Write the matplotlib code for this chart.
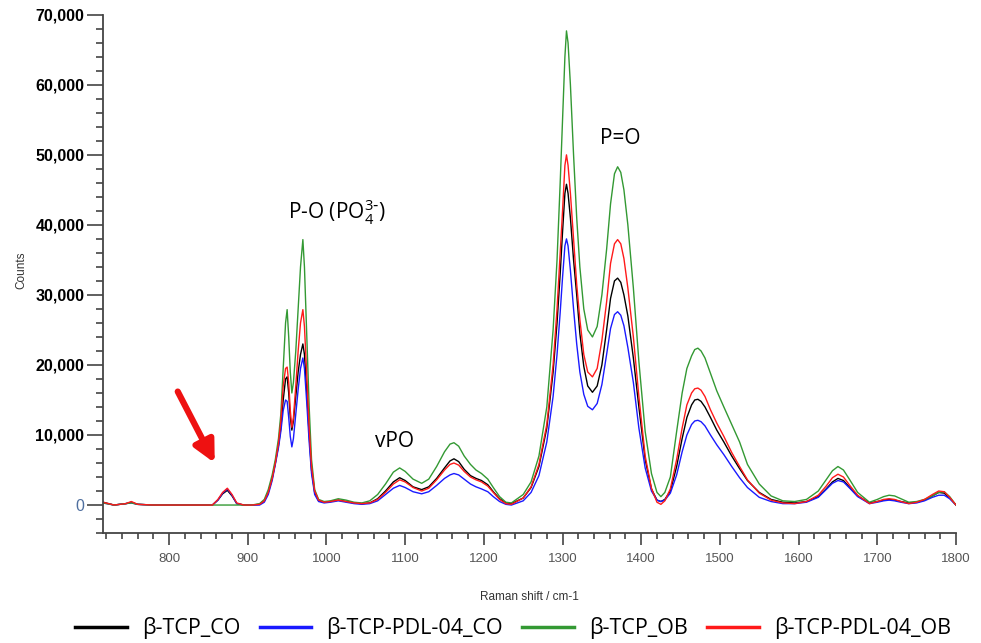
import matplotlib
matplotlib.use('Agg')
import matplotlib.pyplot as plt
from matplotlib.ticker import MultipleLocator, FuncFormatter

# Raman shift (cm-1) sample positions
shift = [716, 730, 745, 752, 760, 780, 800, 820, 840, 855, 862, 868, 874, 880, 886, 895, 905, 915,
         921, 926, 931, 935, 939, 942, 945, 948, 950, 952, 954, 956, 958, 961, 964, 967, 970, 972,
         975, 978, 981, 985, 990, 997, 1005, 1015, 1025, 1035, 1045, 1055, 1065, 1075, 1085, 1093,
         1100, 1110, 1121, 1130, 1140, 1150, 1157, 1162, 1168, 1175, 1183, 1190, 1197, 1205, 1212,
         1220, 1228, 1235, 1250, 1260, 1270, 1280, 1288, 1293, 1297, 1300, 1303, 1305, 1307, 1310,
         1314, 1318, 1322, 1327, 1332, 1338, 1344, 1350, 1356, 1361, 1366, 1370, 1374, 1378, 1383,
         1390, 1397, 1405, 1413, 1420, 1425, 1430, 1437, 1445, 1452, 1458, 1464, 1468, 1472, 1476,
         1481, 1488, 1496, 1505, 1515, 1525, 1535, 1550, 1565, 1580, 1595, 1610, 1625, 1635, 1643,
         1650, 1657, 1665, 1675, 1690, 1700, 1708, 1715, 1722, 1730, 1740, 1750, 1760, 1770, 1778,
         1785, 1792, 1800]

tcp_co = [400, 0, 200, 400, 100, 0, 0, 0, 0, 0, 700, 1600, 2100, 1300, 200, 0, 0, 100,
          600, 1800, 3800, 6000, 8500, 11000, 15000, 18000, 18300, 16000, 12500, 10700, 12000, 15500, 19000, 21500, 23000, 21500,
          16000, 10000, 5000, 1800, 600, 400, 500, 700, 500, 300, 200, 300, 900, 2000, 3300, 3900,
          3500, 2600, 2200, 2600, 3800, 5300, 6300, 6600, 6200, 5100, 4200, 3800, 3500, 2900, 1900,
          900, 300, 200, 1000, 2500, 5500, 11000, 19000, 26000, 33000, 39000, 44500, 45800, 44500, 41000,
          35000, 30000, 24500, 19800, 17000, 16100, 17000, 20000, 25000, 29500, 32000, 32400, 31800, 30000, 27000,
          21000, 14000, 6500, 2300, 700, 500, 800, 2000, 5500, 9500, 12500, 14300, 15000, 15100, 14800,
          14000, 12500, 10700, 9000, 7000, 5200, 3500, 1800, 800, 400, 300, 500, 1200, 2300, 3300,
          3800, 3500, 2500, 1300, 300, 500, 700, 800, 700, 500, 300, 400, 700, 1300, 1800,
          1700, 1000, 0]

pdl_co = [300, 0, 200, 300, 100, 0, 0, 0, 0, 0, 700, 1700, 2300, 1400, 200, 0, 0, 0,
          400, 1500, 3500, 5800, 8200, 10500, 13500, 15000, 14800, 12500, 9800, 8300, 9500, 13000, 16500, 19500, 21000, 19500,
          14500, 9000, 4500, 1500, 500, 300, 400, 600, 400, 200, 100, 200, 600, 1500, 2400, 2800,
          2500, 1900, 1600, 1900, 2800, 3800, 4300, 4500, 4300, 3700, 3000, 2600, 2300, 1900, 1200,
          500, 100, 0, 600, 1800, 4200, 9000, 15500, 21500, 27500, 32500, 37000, 38000, 37000, 33500,
          28000, 23000, 19000, 15800, 14100, 13600, 14500, 17200, 21500, 25200, 27200, 27600, 27100, 25600, 22500,
          17500, 11000, 5300, 2000, 700, 500, 700, 1700, 4300, 7600, 10000, 11500, 12000, 12100, 11900,
          11300, 10000, 8600, 7200, 5500, 3900, 2500, 1100, 500, 200, 200, 400, 1100, 2200, 3100,
          3500, 3300, 2400, 1200, 200, 400, 600, 700, 600, 400, 200, 300, 600, 1100, 1400,
          1400, 900, 0]

tcp_ob = [300, 0, 200, 300, 100, 0, 0, 0, 0, 0, 0, 0, 0, 0, 0, 0, 0, 200,
          800, 2200, 4300, 6500, 9500, 13000, 19500, 26000, 27900, 24000, 19000, 16000, 17500, 22000, 28000, 34000, 37900, 34000,
          24000, 14000, 6500, 2200, 800, 500, 600, 900, 700, 400, 300, 600, 1500, 3000, 4700, 5300,
          4800, 3700, 3100, 3700, 5500, 7600, 8700, 8900, 8400, 7000, 5800, 5000, 4500, 3700, 2500,
          1200, 400, 300, 1500, 3300, 7000, 14000, 25000, 35000, 46000, 55000, 64000, 67700, 66000, 60000,
          50000, 41000, 34000, 28000, 25000, 24000, 25500, 30000, 36500, 43000, 47300, 48300, 47500, 45000, 40000,
          31000, 20500, 10500, 4500, 1800, 1200, 1800, 4000, 10500, 16000, 19500, 21300, 22200, 22400, 22000,
          21000, 18800, 16300, 14000, 11500, 9000, 5800, 3000, 1300, 600, 500, 800, 2000, 3600, 4900,
          5500, 5000, 3600, 1800, 400, 800, 1200, 1400, 1300, 900, 400, 500, 800, 1300, 1800,
          1900, 1200, 0]

pdl_ob = [400, 0, 200, 500, 100, 0, 0, 0, 0, 0, 800, 1800, 2400, 1500, 300, 0, 0, 100,
          600, 1800, 3800, 6000, 8800, 12000, 17000, 19500, 19700, 17500, 13500, 11100, 12500, 17000, 22000, 26000, 27900, 25500,
          18500, 11000, 5500, 2000, 700, 400, 500, 700, 500, 300, 200, 300, 800, 1800, 3000, 3600,
          3300, 2500, 2000, 2400, 3600, 5000, 5800, 6000, 5700, 4800, 4000, 3600, 3300, 2700, 1800,
          800, 200, 100, 1000, 2600, 5800, 11500, 20000, 28000, 36000, 42000, 48500, 50000, 48500, 44500,
          38000, 31500, 26500, 21500, 19000, 18300, 19500, 23500, 29000, 34500, 37300, 37900, 37300, 35200, 31000,
          24000, 15500, 7000, 2400, 400, 100, 600, 2300, 6500, 11000, 14300, 16000, 16600, 16700, 16400,
          15500, 13600, 11700, 9800, 7500, 5500, 3600, 1700, 700, 300, 200, 500, 1400, 2700, 3900,
          4400, 4000, 2800, 1400, 200, 500, 800, 900, 800, 500, 200, 400, 800, 1500, 2000,
          1900, 1100, 0]

labels = ['β-TCP_CO', 'β-TCP-PDL-04_CO', 'β-TCP_OB', 'β-TCP-PDL-04_OB']
colors = ['black', '#1a1aff', '#339933', '#ff1a1a']

plt.rcParams['font.family'] = ['Liberation Sans', 'DejaVu Sans']
plt.rcParams['mathtext.default'] = 'regular'

fig = plt.figure(figsize=(9.81, 6.43), dpi=100)
ax = fig.add_axes([0.105, 0.171, 0.8695, 0.806])

for ys, lab, col in zip([tcp_co, pdl_co, tcp_ob, pdl_ob], labels, colors):
    ax.plot(shift, ys, color=col, lw=1.0, label=lab)

ax.set_xlim(716, 1800)
ax.set_ylim(-4000, 70000)
ax.spines['top'].set_visible(False)
ax.spines['right'].set_visible(False)
for s in ['left', 'bottom']:
    ax.spines[s].set_color('#444444')
    ax.spines[s].set_linewidth(1.3)

ax.xaxis.set_major_locator(MultipleLocator(100))
ax.xaxis.set_minor_locator(MultipleLocator(20))
ax.yaxis.set_major_locator(MultipleLocator(10000))
ax.yaxis.set_minor_locator(MultipleLocator(2000))
ax.yaxis.set_major_formatter(FuncFormatter(lambda v, p: f'{int(v):,}'))
ax.tick_params(axis='y', which='major', length=11.5, width=1.2, color='#444444',
               labelsize=11.5, pad=2)
ax.tick_params(axis='y', which='minor', length=5, width=1.2, color='#444444')
ax.tick_params(axis='x', which='major', length=8.5, width=1.2, color='#444444',
               labelsize=9.5, labelcolor='#555555', pad=6)
ax.tick_params(axis='x', which='minor', length=4, width=1.2, color='#444444')
fig.canvas.draw()
for t in ax.get_yticklabels():
    if t.get_text() == '0':
        t.set_fontweight('normal')
        t.set_color('#4f6f9f')
    else:
        t.set_fontweight('bold')

fig.text(0.022, 0.58, 'Counts', rotation=90, fontsize=8.5, color='#333333',
         ha='center', va='center')
fig.text(0.54, 0.072, 'Raman shift / cm-1', fontsize=8.5, color='#333333',
         ha='center', va='center')

ann = dict(fontsize=15, family=['Open Sans', 'DejaVu Sans'], ha='center', va='center')
ax.text(1013, 41800, 'P-O (PO$_4^{3\\text{-}}$)', **ann)
ax.text(1087, 9100, 'vPO', **ann)
ax.text(1373, 52400, 'P=O', **ann)

ax.annotate('', xy=(858, 6000), xytext=(811, 16200),
            arrowprops=dict(arrowstyle='-|>', color='#ee1111', lw=4.5, mutation_scale=32,
                            shrinkA=0, shrinkB=0))

fig.legend(loc='center', bbox_to_anchor=(0.523, 0.023), ncol=4, frameon=False,
           prop={'family': ['Open Sans', 'DejaVu Sans'], 'size': 15.5},
           handlelength=2.4, columnspacing=0.9, handletextpad=0.7)
for line in fig.legends[0].get_lines():
    line.set_linewidth(2.5)

fig.savefig('out.png', dpi=100)
